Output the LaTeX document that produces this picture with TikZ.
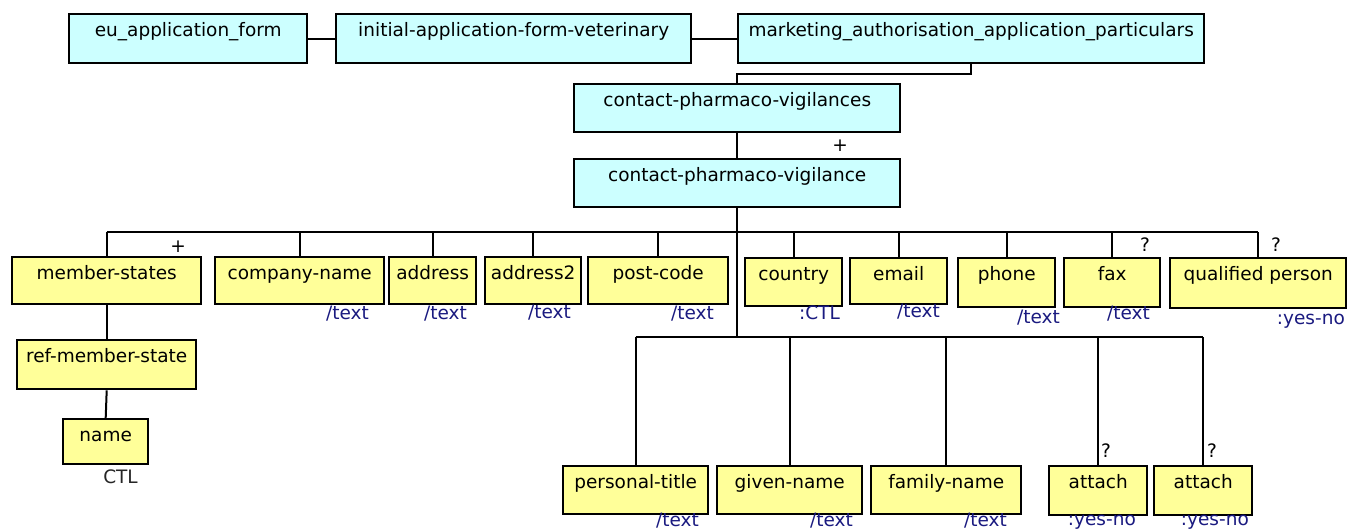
\documentclass[tikz,border=0pt]{standalone}
\usepackage{fontspec}
\setmainfont{DejaVu Sans}
\definecolor{boxcyan}{HTML}{CCFFFF}
\definecolor{boxyellow}{HTML}{FFFF99}
\definecolor{typeblue}{HTML}{1A1A80}
\newcommand\dfont{\fontsize{18.5}{20}\selectfont}
\tikzset{
  basebox/.style={draw=black, line width=2.4pt, inner sep=0pt},
  cbox/.style={basebox, fill=boxcyan},
  ybox/.style={basebox, fill=boxyellow},
  conn/.style={draw=black, line width=2pt},
  typelab/.style={text=typeblue, anchor=base east, inner sep=0pt, font=\dfont},
  mult/.style={text=black, anchor=base, inner sep=0pt, font=\dfont},
  every label/.style={font=\dfont, text=black, inner sep=0pt}
}
\newcommand\mybox[7]{%
  \node[#2, anchor=north west, minimum width={(#5-#3)*1pt}, minimum height={(#6-#4)*1pt},
        label={[anchor=base,yshift=-23pt]north:#7}] (#1) at (#3,#4) {};}
\begin{document}
\begin{tikzpicture}[x=1pt,y=-1pt]
\useasboundingbox[fill=white] (0,0) rectangle (1348,530);
% cyan boxes
\mybox{eu}{cbox}{68}{13}{306}{62}{eu\_application\_form}
\mybox{init}{cbox}{335}{13}{690}{62}{initial-application-form-veterinary}
\mybox{mk}{cbox}{737}{13}{1203}{62}{marketing\_authorisation\_application\_particulars}
\mybox{cpvs}{cbox}{573}{83}{899}{131}{contact-pharmaco-vigilances}
\mybox{cpv}{cbox}{573}{158}{899}{206}{contact-pharmaco-vigilance}
% yellow boxes, first row
\mybox{ms}{ybox}{11}{256}{200}{303}{member-states}
\mybox{cn}{ybox}{214}{256}{383}{303}{company-name}
\mybox{ad}{ybox}{388}{256}{475}{303}{address}
\mybox{adb}{ybox}{484}{256}{580}{303}{address2}
\mybox{pc}{ybox}{587}{256}{727}{303}{post-code}
\mybox{co}{ybox}{744}{257}{841}{305}{country}
\mybox{em}{ybox}{849}{257}{946}{303}{email}
\mybox{ph}{ybox}{957}{257}{1054}{306}{phone}
\mybox{fx}{ybox}{1063}{257}{1159}{306}{fax}
\mybox{qp}{ybox}{1169}{257}{1345}{307}{qualified person}
% member-states subtree
\mybox{rms}{ybox}{16}{339}{195}{388}{ref-member-state}
\mybox{nm}{ybox}{62}{418}{147}{463}{name}
% second row
\mybox{pt}{ybox}{562}{465}{707}{513}{personal-title}
\mybox{gn}{ybox}{716}{465}{861}{513}{given-name}
\mybox{fn}{ybox}{870}{465}{1020}{513}{family-name}
\mybox{ata}{ybox}{1048}{465}{1146}{514}{attach}
\mybox{atb}{ybox}{1153}{465}{1251}{514}{attach}
% bus coordinates
\coordinate (busa) at (0,232);
\coordinate (busb) at (0,337);
% connectors
\draw[conn] (eu.east) -- (init.west);
\draw[conn] (init.east) -- (mk.west);
\draw[conn] (mk.south) -- ++(0,10) -| (cpvs.north);
\draw[conn] (cpvs.south) -- (cpv.north);
\draw[conn] (cpv.south) -- (cpv.south |- busb);
\draw[conn] (ms.north |- busa) -- (qp.north |- busa);
\foreach \c in {ms,cn,ad,adb,pc,co,em,ph,fx,qp}{\draw[conn] (\c.north) -- (\c.north |- busa);}
\draw[conn] (pt.north |- busb) -- (atb.north |- busb);
\foreach \c in {pt,gn,fn,ata,atb}{\draw[conn] (\c.north) -- (\c.north |- busb);}
\draw[conn] (ms.south) -- (rms.north);
\draw[conn] (rms.south) -- (nm.north);
% multiplicities
\node[mult] (m1) at (840,151) {+};
\node[mult] (m2) at (178,252) {+};
\node[mult] (m3) at (1145,251) {?};
\node[mult] (m4) at (1276,251) {?};
\node[mult] (m5) at (1106,457) {?};
\node[mult] (m6) at (1212,457) {?};
% type labels
\node[typelab] (tcn) at (369,319) {/text};
\node[typelab] (tad) at (467,319) {/text};
\node[typelab] (tadb) at (571,318) {/text};
\node[typelab] (tpc) at (714,319) {/text};
\node[typelab] (tco) at (840,319) {:CTL};
\node[typelab] (tem) at (940,317) {/text};
\node[typelab] (tph) at (1060,323) {/text};
\node[typelab] (tfx) at (1150,319) {/text};
\node[typelab] (tqp) at (1345,324) {:yes-no};
\node[typelab] (tpt) at (699,526) {/text};
\node[typelab] (tgn) at (853,526) {/text};
\node[typelab] (tfn) at (1007,526) {/text};
\node[typelab] (tata) at (1136,525) {:yes-no};
\node[typelab] (tatb) at (1249,525) {:yes-no};
\node[typelab, text=black!85] (tnm) at (138,483) {CTL};
\end{tikzpicture}
\end{document}
